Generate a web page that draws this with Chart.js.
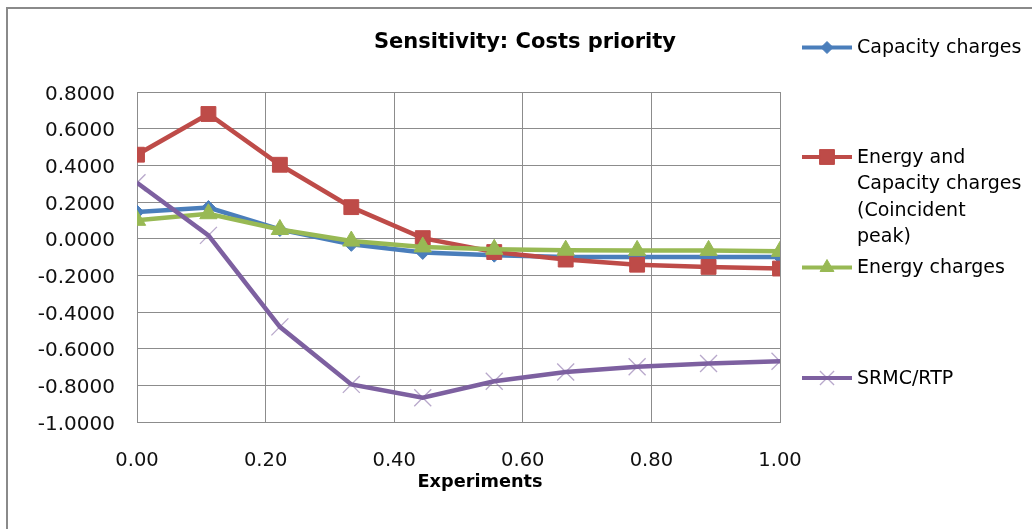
<!DOCTYPE html>
<html>
<head>
<meta charset="utf-8">
<script src="https://cdn.jsdelivr.net/npm/chart.js@4.4.0/dist/chart.umd.min.js"></script>
<style>
  html, body { margin: 0; padding: 0; background: #fff; }
  #wrap { width: 1032px; height: 529px; position: relative; }
</style>
</head>
<body>
<div id="wrap"><canvas id="chart" width="1032" height="529"></canvas></div>
<script>
// experiments (x) and the four sensitivity series
const experiments = [0.0000, 0.1111, 0.2222, 0.3333, 0.4444, 0.5556, 0.6667, 0.7778, 0.8889, 1.0000];
const capacityCharges = [0.145, 0.170, 0.050, -0.031, -0.075, -0.090, -0.100, -0.100, -0.100, -0.100];
const energyCapacityCP = [0.458, 0.680, 0.403, 0.172, 0.003, -0.073, -0.114, -0.142, -0.154, -0.163];
const energyCharges = [0.100, 0.136, 0.050, -0.013, -0.045, -0.058, -0.063, -0.064, -0.064, -0.069];
const srmcRtp = [0.305, 0.018, -0.481, -0.795, -0.868, -0.778, -0.727, -0.699, -0.681, -0.669];

const yTicks = [-1, -0.8, -0.6, -0.4, -0.2, 0, 0.2, 0.4, 0.6, 0.8];
const xTicks = [0, 0.2, 0.4, 0.6, 0.8, 1];

const seriesNames = ['Capacity charges', 'Energy and Capacity charges (Coincident peak)', 'Energy charges', 'SRMC/RTP'];
const legendLines = [
  ['Capacity charges'],
  ['Energy and', 'Capacity charges', '(Coincident', 'peak)'],
  ['Energy charges'],
  ['SRMC/RTP']
];
const chartTitle = 'Sensitivity: Costs priority';
const xTitle = 'Experiments';

const toPoints = ys => ys.map((y, i) => ({ x: experiments[i], y }));

const styles = [
  { color: '#4a7ebb', point: 'rectRot', radius: 7, pointColor: '#4a7ebb', pointBorder: 1 },
  { color: '#be4b48', point: 'rect', radius: 10.5, pointColor: '#be4b48', pointBorder: 1 },
  { color: '#98b954', point: 'triangle', radius: 10, pointColor: '#98b954', pointBorder: 1 },
  { color: '#7d60a0', point: 'crossRot', radius: 12, pointColor: 'rgba(125,96,160,0.55)', pointBorder: 1.3 }
];
const seriesData = [capacityCharges, energyCapacityCP, energyCharges, srmcRtp];

const datasets = seriesData.map((d, i) => ({
  label: seriesNames[i],
  data: toPoints(d),
  borderColor: styles[i].color,
  backgroundColor: styles[i].pointColor,
  borderWidth: 4.5,
  pointStyle: styles[i].point,
  pointRadius: styles[i].radius,
  pointBorderColor: styles[i].pointColor,
  pointBackgroundColor: styles[i].pointColor,
  pointBorderWidth: styles[i].pointBorder,
  tension: 0,
  order: 4 - i
}));

const FONT = '"DejaVu Sans", sans-serif';

const decorations = {
  id: 'decorations',
  beforeDraw(chart) {
    const ctx = chart.ctx;
    ctx.save();
    ctx.fillStyle = '#fff';
    ctx.fillRect(0, 0, chart.width, chart.height);
    ctx.strokeStyle = '#8a8a8a';
    ctx.lineWidth = 2;
    ctx.strokeRect(7, 8, 1200, 800);
    ctx.restore();
  },
  afterDraw(chart) {
    const ctx = chart.ctx;
    ctx.save();
    ctx.fillStyle = '#000';
    ctx.textAlign = 'center';
    ctx.textBaseline = 'middle';
    ctx.font = 'bold 21px ' + FONT;
    ctx.fillText(chartTitle, 525, 43);
    ctx.font = 'bold 17.7px ' + FONT;
    ctx.fillText(xTitle, 480, 482);

    // legend
    const itemY = [47.5, 157, 267.5, 378];
    ctx.textAlign = 'left';
    ctx.font = '19px ' + FONT;
    legendLines.forEach((lines, i) => {
      const y = itemY[i];
      const st = styles[i];
      ctx.strokeStyle = st.color;
      ctx.lineWidth = 4;
      ctx.beginPath();
      ctx.moveTo(802, y);
      ctx.lineTo(852, y);
      ctx.stroke();
      ctx.fillStyle = st.pointColor;
      ctx.strokeStyle = st.pointColor;
      ctx.lineWidth = st.pointBorder;
      const r = st.point === 'rect' ? 10.5 : st.point === 'crossRot' ? 10 : st.point === 'triangle' ? 8 : 6;
      Chart.helpers.drawPoint(ctx, { pointStyle: st.point, radius: r, rotation: 0, borderWidth: st.pointBorder }, 827, y);
      ctx.fillStyle = '#000';
      lines.forEach((t, j) => ctx.fillText(t, 857, y + 1 + j * 26.3));
    });
    ctx.restore();
  }
};

new Chart(document.getElementById('chart'), {
  type: 'line',
  data: { datasets },
  options: {
    responsive: false,
    animation: false,
    layout: { padding: { top: 92, right: 252, left: 0, bottom: 0 } },
    plugins: {
      legend: { display: false },
      title: { display: false },
      tooltip: { enabled: false }
    },
    scales: {
      x: {
        type: 'linear',
        min: 0,
        max: 1,
        afterFit: s => { s.height = 107; },
        afterBuildTicks: s => { s.ticks = xTicks.map(v => ({ value: v })); },
        ticks: {
          padding: 27,
          color: '#111',
          font: { family: FONT, size: 19.5 },
          callback: v => Number(v).toFixed(2)
        },
        grid: { color: '#8c8c8c', lineWidth: 1, drawTicks: false },
        border: { color: '#8c8c8c' }
      },
      y: {
        min: -1,
        max: 0.8,
        afterFit: s => { s.width = 137; },
        afterBuildTicks: s => { s.ticks = yTicks.map(v => ({ value: v })); },
        ticks: {
          padding: 22,
          labelOffset: 2.5,
          color: '#111',
          font: { family: FONT, size: 20 },
          callback: v => Number(v).toFixed(4)
        },
        grid: { color: '#8c8c8c', lineWidth: 1, drawTicks: false },
        border: { color: '#8c8c8c' }
      }
    }
  },
  plugins: [decorations]
});
</script>
</body>
</html>
